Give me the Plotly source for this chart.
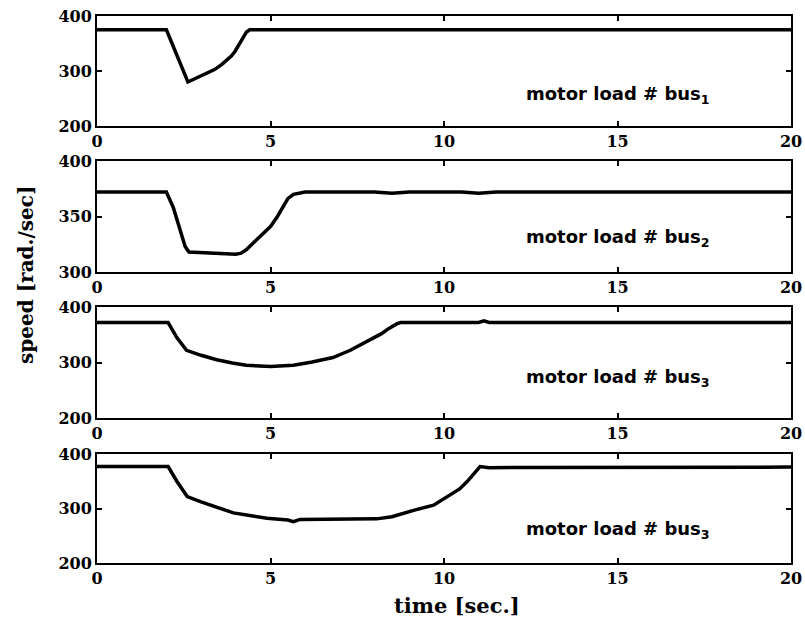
import plotly.graph_objects as go

# ---- data ----
t_bus1 = [0, 2.0, 2.62, 2.8, 2.97, 3.2, 3.4, 3.6, 3.74, 3.87, 3.97, 4.05, 4.12, 4.2, 4.31, 4.4, 20]
w_bus1 = [375, 375, 280, 285, 290, 296, 303, 312, 320, 327, 335, 343, 352, 360, 371, 375, 375]

t_bus2 = [0, 2.0, 2.2, 2.4, 2.54, 2.65, 3.2, 4.0, 4.15, 4.3, 4.6, 4.8, 5.0, 5.2, 5.37, 5.5, 5.66, 5.85, 6.0, 8.0, 8.5, 9.0, 10.5, 11.0, 11.5, 20]
w_bus2 = [372, 372, 358, 338, 323, 318, 317, 316, 317, 320, 329, 335, 341, 350, 359, 366, 370, 371.5, 372, 372, 371, 372, 372, 371, 372, 372]

t_bus3 = [0, 2.05, 2.3, 2.58, 3.0, 3.45, 3.9, 4.3, 5.0, 5.66, 6.2, 6.8, 7.3, 7.78, 8.2, 8.4, 8.53, 8.65, 8.75, 11.0, 11.15, 11.3, 20]
w_bus3 = [372, 372, 345, 322, 313, 305, 299, 295, 293, 295, 301, 309, 322, 338, 352, 361, 366, 370, 372, 372, 375, 372, 372]

t_bus4 = [0, 2.05, 2.3, 2.6, 3.0, 3.5, 3.93, 4.4, 4.9, 5.5, 5.66, 5.85, 7.0, 8.06, 8.5, 8.74, 9.2, 9.7, 10.2, 10.45, 10.66, 10.85, 11.04, 11.3, 20]
w_bus4 = [377, 377, 350, 322, 312, 301, 292, 287, 282, 279, 276, 280, 280, 281, 285, 290, 298, 306, 325, 336, 349, 362, 377, 375, 376]

x_ticks = [0, 5, 10, 15, 20]
y_ticks = [[200, 300, 400], [300, 350, 400], [200, 300, 400], [200, 300, 400]]
y_ranges = [[200, 400], [300, 400], [200, 400], [200, 400]]
panel_labels = ["motor load # bus<sub>1</sub>", "motor load # bus<sub>2</sub>",
                "motor load # bus<sub>3</sub>", "motor load # bus<sub>3</sub>"]
label_y = [256, 331, 272, 260]
x_title = "time [sec.]"
y_title = "speed [rad./sec]"

series = [(t_bus1, w_bus1), (t_bus2, w_bus2), (t_bus3, w_bus3), (t_bus4, w_bus4)]

# layout geometry (page body margin is removed in the written page)
W, H = 805, 628
L, R, T, B = 97, 14, 16, 65
pw = W - L - R
ph = H - T - B
bottom_px = H - B
panel_px = [(16, 126), (161, 272), (307, 418), (454, 563)]
domains = [[(bottom_px - b) / ph, (bottom_px - t) / ph] for t, b in panel_px]

tickfont = dict(family="DejaVu Serif", size=16, color="black", weight="bold")

fig = go.Figure()
annotations = []
for i, (tt, ww) in enumerate(series):
    n = "" if i == 0 else str(i + 1)
    fig.add_trace(go.Scatter(x=tt, y=ww, mode="lines",
                             line=dict(color="black", width=3.5),
                             xaxis="x" + n, yaxis="y" + n, showlegend=False))
    fig.layout["xaxis" + n] = dict(
        domain=[0, 1], anchor="y" + n, range=[0, 20], tickvals=x_ticks,
        ticks="inside", ticklen=5, tickwidth=1.5, tickcolor="black",
        showline=True, linecolor="black", linewidth=2, mirror="ticks",
        showgrid=False, zeroline=False, tickfont=tickfont, automargin=False,
        ticklabeloverflow="allow")
    fig.layout["yaxis" + n] = dict(
        domain=domains[i], anchor="x" + n, range=y_ranges[i], tickvals=y_ticks[i],
        ticks="inside", ticklen=5, tickwidth=1.5, tickcolor="black",
        showline=True, linecolor="black", linewidth=2, mirror="ticks",
        showgrid=False, zeroline=False, tickfont=tickfont, automargin=False,
        ticklabeloverflow="allow")
    annotations.append(dict(
        x=12.3, y=label_y[i], xref="x" + n, yref="y" + n, text=panel_labels[i],
        showarrow=False, xanchor="left", yanchor="middle",
        font=dict(family="DejaVu Sans", size=18, color="black", weight="bold")))

annotations.append(dict(
    x=(457 - L) / pw, y=(bottom_px - 605) / ph, xref="paper", yref="paper",
    text=x_title, showarrow=False, xanchor="center", yanchor="middle",
    font=dict(family="DejaVu Serif", size=21, color="black", weight="bold")))
annotations.append(dict(
    x=(26 - L) / pw, y=(bottom_px - 275) / ph, xref="paper", yref="paper",
    text=y_title, showarrow=False, xanchor="center", yanchor="middle", textangle=-90,
    font=dict(family="DejaVu Serif", size=20, color="black", weight="bold")))

fig.update_layout(
    width=W, height=H, margin=dict(l=L, r=R, t=T, b=B, autoexpand=False),
    paper_bgcolor="white", plot_bgcolor="white",
    annotations=annotations, showlegend=False)

fig.write_html("out.html", config={"displayModeBar": False},
               post_script="document.body.style.margin='0';document.body.style.overflow='hidden';")
